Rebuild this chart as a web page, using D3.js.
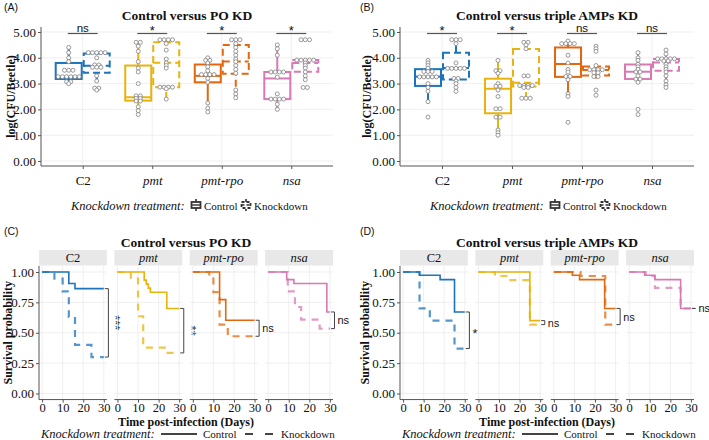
<!DOCTYPE html>
<html>
<head>
<meta charset="utf-8">
<script src="https://cdn.jsdelivr.net/npm/d3@7"></script>
<style>
body { margin: 0; background: #fff; }
svg text { font-family: "Liberation Serif", "Tinos", "Times New Roman", "DejaVu Serif", serif; fill: #111; }
svg text.sans { font-family: "Liberation Sans", Arial, sans-serif; }
</style>
</head>
<body>
<div id="chart"></div>
<script>
// ---- data ----
var genes = ["C2", "pmt", "pmt-rpo", "nsa"];
var treatments = ["Control", "Knockdown"];
var boxTicks = [0, 1, 2, 3, 4, 5];
var survYTicks = [0, 0.25, 0.5, 0.75, 1];
var survXTicks = [0, 10, 20, 30];
var survEnd = 30;

// box stats per gene: [lower whisker, q1, median, q3, upper whisker]
var poBoxControl = [[3.0, 3.18, 3.26, 3.80, 4.40], [1.8, 2.34, 2.47, 3.70, 4.60], [2.2, 3.05, 3.30, 3.74, 4.0], [2.0, 2.40, 3.20, 3.45, 4.5]];
var poBoxKnockdown = [[3.15, 3.42, 3.69, 4.17, 4.20], [2.4, 2.86, 3.81, 4.60, 4.70], [2.45, 3.38, 3.86, 4.50, 4.70], [3.1, 3.46, 3.80, 3.91, 3.95]];
var ampBoxControl = [[2.3, 2.91, 3.27, 3.56, 3.90], [1.0, 1.85, 2.80, 3.19, 3.90], [2.5, 3.26, 3.76, 4.40, 4.65], [3.0, 3.18, 3.46, 3.74, 4.2]];
var ampBoxKnockdown = [[2.7, 3.16, 3.60, 4.20, 4.70], [2.4, 2.89, 3.03, 4.34, 4.60], [3.2, 3.31, 3.53, 3.66, 3.75], [3.1, 3.50, 3.82, 3.95, 4.3]];

// log(CFU/Beetle) per beetle
var poPointsControl = [
    [4.40, 4.20, 4.00, 3.85, 3.55, 3.50, 3.50, 3.30, 3.30, 3.25, 3.25, 3.25, 3.25, 3.10, 3.05, 3.00],
    [4.6, 4.6, 4.45, 4.25, 3.85, 3.6, 3.45, 3.0, 2.55, 2.5, 2.45, 2.4, 2.35, 2.3, 2.1, 1.95, 1.8],
    [4.0, 3.9, 3.9, 3.8, 3.65, 3.5, 3.35, 3.35, 3.35, 3.35, 3.2, 3.05, 2.25, 2.05, 1.9],
    [4.5, 4.35, 4.1, 3.45, 3.45, 3.45, 3.45, 3.25, 2.6, 2.4, 2.4, 2.4, 2.4, 2.2, 2.0]
];
var poPointsKnockdown = [
    [4.2, 4.2, 4.2, 4.2, 4.2, 4.0, 3.75, 3.7, 3.65, 3.65, 3.6, 3.3, 3.1, 2.85, 2.8, 2.75],
    [4.7, 4.7, 4.7, 4.7, 4.55, 4.3, 3.95, 3.8, 3.7, 3.6, 2.9, 2.85, 2.85, 2.85, 2.8, 2.4],
    [4.7, 4.7, 4.7, 4.55, 4.4, 4.25, 4.1, 3.95, 3.85, 3.7, 3.55, 3.4, 2.75, 2.6, 2.45],
    [4.7, 4.7, 4.7, 3.95, 3.9, 3.9, 3.9, 3.9, 3.8, 3.7, 3.6, 3.45, 3.3, 3.15, 2.85, 2.85]
];
var ampPointsControl = [
    [3.9, 3.8, 3.7, 3.6, 3.5, 3.45, 3.45, 3.3, 3.25, 3.25, 3.25, 3.25, 3.0, 2.85, 2.7, 2.3, 1.7],
    [3.9, 3.5, 3.5, 3.4, 3.0, 2.9, 2.9, 2.75, 2.5, 2.05, 2.0, 1.7, 1.7, 1.2, 1.1, 1.0],
    [4.65, 4.55, 4.55, 4.55, 4.55, 4.1, 3.8, 3.55, 3.45, 3.3, 3.25, 3.15, 2.6, 2.5, 1.5],
    [4.2, 4.0, 3.9, 3.75, 3.65, 3.55, 3.45, 3.45, 3.3, 3.2, 3.15, 3.05, 2.0, 1.8]
];
var ampPointsKnockdown = [
    [4.7, 4.7, 4.7, 4.55, 3.8, 3.6, 3.6, 3.6, 3.6, 3.55, 3.2, 3.2, 3.1, 3.0, 2.85, 2.7],
    [4.6, 4.6, 4.5, 4.35, 3.3, 3.3, 2.95, 2.95, 2.9, 2.9, 2.85, 2.85, 2.45, 2.45, 2.4],
    [4.45, 4.35, 4.25, 3.7, 3.55, 3.55, 3.55, 3.5, 3.45, 3.4, 3.3, 3.25, 2.75, 2.55],
    [4.3, 4.15, 4.0, 3.95, 3.95, 3.95, 3.95, 3.9, 3.85, 3.75, 3.65, 3.55, 3.45, 3.3, 3.1, 2.95, 2.85]
];
var poBoxSig = ["ns", "*", "*", "*"];
var ampBoxSig = ["*", "*", "ns", "ns"];

// survival steps [day, probability]
var poSurvControl = [
    [[0, 1], [13, 0.905], [16, 0.863]],
    [[0, 1], [13, 0.933], [14, 0.90], [15, 0.867], [16, 0.833], [24, 0.70]],
    [[0, 1], [13, 0.773], [16, 0.603]],
    [[0, 1], [9, 0.937], [12.5, 0.905], [28.5, 0.671]]
];
var poSurvKnockdown = [
    [[0, 1], [6, 0.945], [10, 0.841], [13, 0.63], [16, 0.40], [24, 0.30]],
    [[0, 1], [6.5, 0.945], [10, 0.636], [12.5, 0.378], [23, 0.334]],
    [[0, 1], [8, 0.96], [10, 0.835], [13, 0.567], [17, 0.471]],
    [[0, 1], [9.5, 0.84], [13, 0.712], [16, 0.608], [25, 0.534]]
];
var ampSurvControl = [
    [[0, 1], [8, 0.973], [18, 0.937], [25, 0.671]],
    [[0, 1], [25, 0.60]],
    [[0, 1], [9, 0.973], [12.5, 0.937], [24.7, 0.70]],
    [[0, 1], [7.5, 0.973], [12.5, 0.937], [25, 0.70]]
];
var ampSurvKnockdown = [
    [[0, 1], [8, 0.70], [13, 0.60], [25, 0.37]],
    [[0, 1], [8, 0.967], [15, 0.933], [25, 0.567]],
    [[0, 1], [13, 0.967], [25, 0.567]],
    [[0, 1], [8, 0.967], [12.5, 0.87], [25, 0.70]]
];
var poSurvSig = ["***", "**", "ns", "ns"];
var ampSurvSig = ["*", "ns", "ns", "ns"];

var geneColors = ["#1c74bb", "#e8b30c", "#e2670f", "#d879b4"];
var axisColor = "#555";
var gridColor = "#ebebeb";

var svg = d3.select("#chart").append("svg")
    .attr("width", 709)
    .attr("height", 440);

// group near-equal values into rows of side-by-side dots
function stackDots(vals) {
    var s = vals.slice().sort(d3.descending), bins = [];
    s.forEach(function (v) {
        var b = bins[bins.length - 1];
        if (b && b.start - v <= 0.06) b.vals.push(v);
        else bins.push({start: v, vals: [v]});
    });
    var out = [];
    bins.forEach(function (b) {
        var m = d3.mean(b.vals), n = b.vals.length;
        b.vals.forEach(function (v, i) {
            out.push({v: m, off: i - (n - 1) / 2});
        });
    });
    return out;
}

function drawBoxPanel(opt) {
    var x = d3.scalePoint().domain(genes).range([opt.x0, opt.x1]).padding(0.6);
    var y = d3.scaleLinear().domain([0, 5]).range([161, 32]);
    var top = 27, bottom = 166;
    var g = svg.append("g");

    svg.append("text").attr("class", "sans")
        .attr("x", opt.labelX).attr("y", 11)
        .attr("font-size", "10.5px")
        .text(opt.label);

    svg.append("text")
        .attr("x", (opt.x0 + opt.x1) / 2).attr("y", 20)
        .attr("text-anchor", "middle")
        .attr("font-weight", "bold")
        .attr("font-size", "13.5px")
        .text(opt.title);

    // grid
    g.selectAll(".hgrid").data(boxTicks).enter().append("line")
        .attr("x1", opt.x0).attr("x2", opt.x1)
        .attr("y1", function (d) { return y(d); }).attr("y2", function (d) { return y(d); })
        .attr("stroke", gridColor).attr("stroke-width", 0.8);
    g.selectAll(".vgrid").data(genes).enter().append("line")
        .attr("x1", function (d) { return x(d); }).attr("x2", function (d) { return x(d); })
        .attr("y1", top).attr("y2", bottom)
        .attr("stroke", gridColor).attr("stroke-width", 0.8);

    // axes
    var yAxis = g.append("g")
        .attr("transform", "translate(" + opt.x0 + ",0)")
        .call(d3.axisLeft(y).tickValues(boxTicks).tickFormat(d3.format(".2f")).tickSize(3).tickPadding(2));
    yAxis.select(".domain").remove();
    yAxis.selectAll("line").attr("stroke", axisColor);
    yAxis.selectAll("text").attr("font-size", "13px");
    yAxis.attr("font-family", null);

    var xAxis = g.append("g")
        .attr("transform", "translate(0," + bottom + ")")
        .call(d3.axisBottom(x).tickSize(3).tickPadding(7));
    xAxis.select(".domain").remove();
    xAxis.selectAll("line").attr("stroke", axisColor);
    xAxis.attr("font-family", null);
    xAxis.selectAll("text").attr("font-size", "13px")
        .attr("font-style", function (d) { return d === "C2" ? "normal" : "italic"; });

    g.append("line").attr("x1", opt.x0).attr("x2", opt.x0).attr("y1", top).attr("y2", bottom)
        .attr("stroke", axisColor).attr("stroke-width", 1);
    g.append("line").attr("x1", opt.x0).attr("x2", opt.x1).attr("y1", bottom).attr("y2", bottom)
        .attr("stroke", axisColor).attr("stroke-width", 1);

    svg.append("text")
        .attr("transform", "translate(" + opt.titleX + "," + ((top + bottom) / 2) + ") rotate(-90)")
        .attr("text-anchor", "middle")
        .attr("font-weight", "bold")
        .attr("font-size", "12px")
        .text("log(CFU/Beetle)");

    // boxes
    genes.forEach(function (gene, i) {
        [opt.control, opt.knockdown].forEach(function (stats, t) {
            var s = stats[i];
            var cx = x(gene) + (t === 0 ? -14 : 14);
            var dash = t === 0 ? null : "7,4";
            var col = geneColors[i];
            var bg = g.append("g");
            bg.append("line").attr("x1", cx).attr("x2", cx).attr("y1", y(s[0])).attr("y2", y(s[1]))
                .attr("stroke", col).attr("stroke-width", 2).attr("stroke-dasharray", dash);
            bg.append("line").attr("x1", cx).attr("x2", cx).attr("y1", y(s[3])).attr("y2", y(s[4]))
                .attr("stroke", col).attr("stroke-width", 2).attr("stroke-dasharray", dash);
            bg.append("rect")
                .attr("x", cx - 13).attr("width", 26)
                .attr("y", y(s[3])).attr("height", y(s[1]) - y(s[3]))
                .attr("fill", "none").attr("stroke", col).attr("stroke-width", 2)
                .attr("stroke-dasharray", dash);
            bg.append("line").attr("x1", cx - 13).attr("x2", cx + 13).attr("y1", y(s[2])).attr("y2", y(s[2]))
                .attr("stroke", col).attr("stroke-width", 2).attr("stroke-dasharray", dash);

            var pts = [opt.controlPts, opt.knockdownPts][t][i];
            bg.selectAll("circle").data(stackDots(pts)).enter().append("circle")
                .attr("cx", function (d) { return cx + d.off * 4.2; })
                .attr("cy", function (d) { return y(d.v); })
                .attr("r", 2)
                .attr("fill", "#fff").attr("stroke", "#808080").attr("stroke-width", 0.8);
        });

        // significance bracket
        g.append("line").attr("x1", x(gene) - 15).attr("x2", x(gene) + 15)
            .attr("y1", 33.5).attr("y2", 33.5)
            .attr("stroke", "#555").attr("stroke-width", 1.2);
        g.append("text").attr("class", "sans")
            .attr("x", x(gene)).attr("y", opt.sig[i] === "ns" ? 31.5 : 35)
            .attr("text-anchor", "middle")
            .attr("font-size", opt.sig[i] === "ns" ? "11.5px" : "13px")
            .text(opt.sig[i]);
    });

    // legend
    var ly = 206;
    var leg = svg.append("g");
    leg.append("text").attr("x", opt.x0 + 30).attr("y", ly + 4)
        .attr("font-style", "italic").attr("font-size", "12.5px")
        .text("Knockdown treatment:");
    [150, 200].forEach(function (dx, t) {
        var kx = opt.x0 + dx + 5;
        var dash = t === 0 ? null : "3,2";
        leg.append("line").attr("x1", kx).attr("x2", kx).attr("y1", ly - 7).attr("y2", ly + 5)
            .attr("stroke", "#333").attr("stroke-width", 1.6).attr("stroke-dasharray", dash);
        leg.append("rect").attr("x", kx - 4.5).attr("y", ly - 4).attr("width", 9).attr("height", 6)
            .attr("fill", "#fff").attr("stroke", "#333").attr("stroke-width", 1.8)
            .attr("stroke-dasharray", dash);
        leg.append("line").attr("x1", kx - 4.5).attr("x2", kx + 4.5).attr("y1", ly - 1).attr("y2", ly - 1)
            .attr("stroke", "#333").attr("stroke-width", 1.4).attr("stroke-dasharray", dash);
        leg.append("text").attr("x", opt.x0 + dx + 13).attr("y", ly + 4)
            .attr("font-size", "11px")
            .text(treatments[t]);
    });
}

function drawSurvPanel(opt) {
    var W = 294, gap = 7.5, fw = (W - 3 * gap) / 4;
    var y = d3.scaleLinear().domain([0, 1]).range([393.5, 272]);
    var top = y(1.05), bottom = y(-0.05);
    var g = svg.append("g");

    svg.append("text").attr("class", "sans")
        .attr("x", opt.labelX).attr("y", 235)
        .attr("font-size", "10.5px")
        .text(opt.label);

    svg.append("text")
        .attr("x", opt.L + W / 2).attr("y", 246.5)
        .attr("text-anchor", "middle")
        .attr("font-weight", "bold")
        .attr("font-size", "13.5px")
        .text(opt.title);

    genes.forEach(function (gene, i) {
        var fx = opt.L + i * (fw + gap);
        var x = d3.scaleLinear().domain([-1.5, 31.5]).range([fx, fx + fw]);
        var fg = g.append("g");

        fg.append("rect").attr("x", fx).attr("y", 250).attr("width", fw).attr("height", 15.5)
            .attr("fill", "#e8e8e8");
        fg.append("text").attr("x", fx + fw / 2).attr("y", 262)
            .attr("text-anchor", "middle").attr("font-size", "12.5px")
            .attr("font-style", i === 0 ? "normal" : "italic")
            .text(gene);

        fg.selectAll(".hg").data(survYTicks).enter().append("line")
            .attr("x1", fx).attr("x2", fx + fw)
            .attr("y1", function (d) { return y(d); }).attr("y2", function (d) { return y(d); })
            .attr("stroke", gridColor).attr("stroke-width", 0.8);
        fg.selectAll(".vg").data(survXTicks).enter().append("line")
            .attr("x1", function (d) { return x(d); }).attr("x2", function (d) { return x(d); })
            .attr("y1", top).attr("y2", bottom)
            .attr("stroke", gridColor).attr("stroke-width", 0.8);

        var xAxis = fg.append("g").attr("transform", "translate(0," + bottom + ")")
            .call(d3.axisBottom(x).tickValues(survXTicks).tickSize(3).tickPadding(1));
        xAxis.select(".domain").remove();
        xAxis.attr("font-family", null);
        xAxis.selectAll("line").attr("stroke", axisColor);
        xAxis.selectAll("text").attr("font-size", "12.5px");
        fg.append("line").attr("x1", fx).attr("x2", fx + fw).attr("y1", bottom).attr("y2", bottom)
            .attr("stroke", axisColor).attr("stroke-width", 1);

        if (i === 0) {
            var yAxis = fg.append("g").attr("transform", "translate(" + fx + ",0)")
                .call(d3.axisLeft(y).tickValues(survYTicks).tickFormat(d3.format(".2f")).tickSize(3).tickPadding(2));
            yAxis.select(".domain").remove();
            yAxis.attr("font-family", null);
            yAxis.selectAll("line").attr("stroke", axisColor);
            yAxis.selectAll("text").attr("font-size", "13px");
            fg.append("line").attr("x1", fx).attr("x2", fx).attr("y1", top).attr("y2", bottom)
                .attr("stroke", axisColor).attr("stroke-width", 1);
        }

        var line = d3.line().curve(d3.curveStepAfter)
            .x(function (d) { return x(d[0]); })
            .y(function (d) { return y(d[1]); });
        var ends = [];
        [opt.control, opt.knockdown].forEach(function (curves, t) {
            var steps = curves[i];
            var last = steps[steps.length - 1][1];
            ends.push(last);
            fg.append("path")
                .datum(steps.concat([[survEnd, last]]))
                .attr("d", line)
                .attr("fill", "none")
                .attr("stroke", geneColors[i])
                .attr("stroke-width", t === 0 ? 1.6 : 2.2)
                .attr("stroke-opacity", t === 0 ? 1 : 0.75)
                .attr("stroke-dasharray", t === 0 ? null : "7,6");
        });

        // log-rank bracket
        var bx = x(31.5) + 1.5;
        var yc = y(ends[0]), yk = y(ends[1]);
        fg.append("path")
            .attr("d", "M" + (x(30) + 1) + "," + yc + "H" + bx + "V" + yk + "H" + (x(30) + 1))
            .attr("fill", "none").attr("stroke", "#444").attr("stroke-width", 1);
        var mid = (yc + yk) / 2, sig = opt.sig[i];
        if (sig === "ns") {
            fg.append("text").attr("class", "sans")
                .attr("x", bx + 3).attr("y", mid + 4)
                .attr("font-size", "11px").text(sig);
        } else if (sig.length > 1) {
            fg.append("text").attr("class", "sans")
                .attr("transform", "translate(" + (bx + 3) + "," + mid + ") rotate(90)")
                .attr("text-anchor", "middle")
                .attr("font-size", "13px").text(sig);
        } else {
            fg.append("text").attr("class", "sans")
                .attr("x", bx + 3).attr("y", mid + 8)
                .attr("font-size", "13px").text(sig);
        }
    });

    svg.append("text")
        .attr("transform", "translate(" + opt.titleX + "," + ((top + bottom) / 2) + ") rotate(-90)")
        .attr("text-anchor", "middle")
        .attr("font-weight", "bold")
        .attr("font-size", "12px")
        .text("Survival probability");

    svg.append("text")
        .attr("x", opt.L + W / 2).attr("y", 426)
        .attr("text-anchor", "middle")
        .attr("font-weight", "bold")
        .attr("font-size", "12px")
        .text("Time post-infection (Days)");

    // legend
    var ly = 434;
    var leg = svg.append("g");
    leg.append("text").attr("x", opt.L + 2).attr("y", ly + 4)
        .attr("font-style", "italic").attr("font-size", "12.5px")
        .text("Knockdown treatment:");
    leg.append("line").attr("x1", opt.L + 122).attr("x2", opt.L + 158).attr("y1", ly).attr("y2", ly)
        .attr("stroke", "#444").attr("stroke-width", 2);
    leg.append("text").attr("x", opt.L + 164).attr("y", ly + 4).attr("font-size", "11px").text(treatments[0]);
    leg.append("line").attr("x1", opt.L + 206).attr("x2", opt.L + 234).attr("y1", ly).attr("y2", ly)
        .attr("stroke", "#444").attr("stroke-width", 2.2).attr("stroke-dasharray", "8,12");
    leg.append("text").attr("x", opt.L + 242).attr("y", ly + 4).attr("font-size", "11px").text(treatments[1]);
}

drawBoxPanel({
    x0: 41, x1: 333, label: "(A)", labelX: 4, titleX: 15,
    title: "Control versus PO KD",
    control: poBoxControl, knockdown: poBoxKnockdown,
    controlPts: poPointsControl, knockdownPts: poPointsKnockdown,
    sig: poBoxSig
});
drawBoxPanel({
    x0: 400, x1: 694, label: "(B)", labelX: 360, titleX: 371,
    title: "Control versus triple AMPs KD",
    control: ampBoxControl, knockdown: ampBoxKnockdown,
    controlPts: ampPointsControl, knockdownPts: ampPointsKnockdown,
    sig: ampBoxSig
});
drawSurvPanel({
    L: 39, label: "(C)", labelX: 4, titleX: 12,
    title: "Control versus PO KD",
    control: poSurvControl, knockdown: poSurvKnockdown, sig: poSurvSig
});
drawSurvPanel({
    L: 400, label: "(D)", labelX: 360, titleX: 369,
    title: "Control versus triple AMPs KD",
    control: ampSurvControl, knockdown: ampSurvKnockdown, sig: ampSurvSig
});
</script>
</body>
</html>
